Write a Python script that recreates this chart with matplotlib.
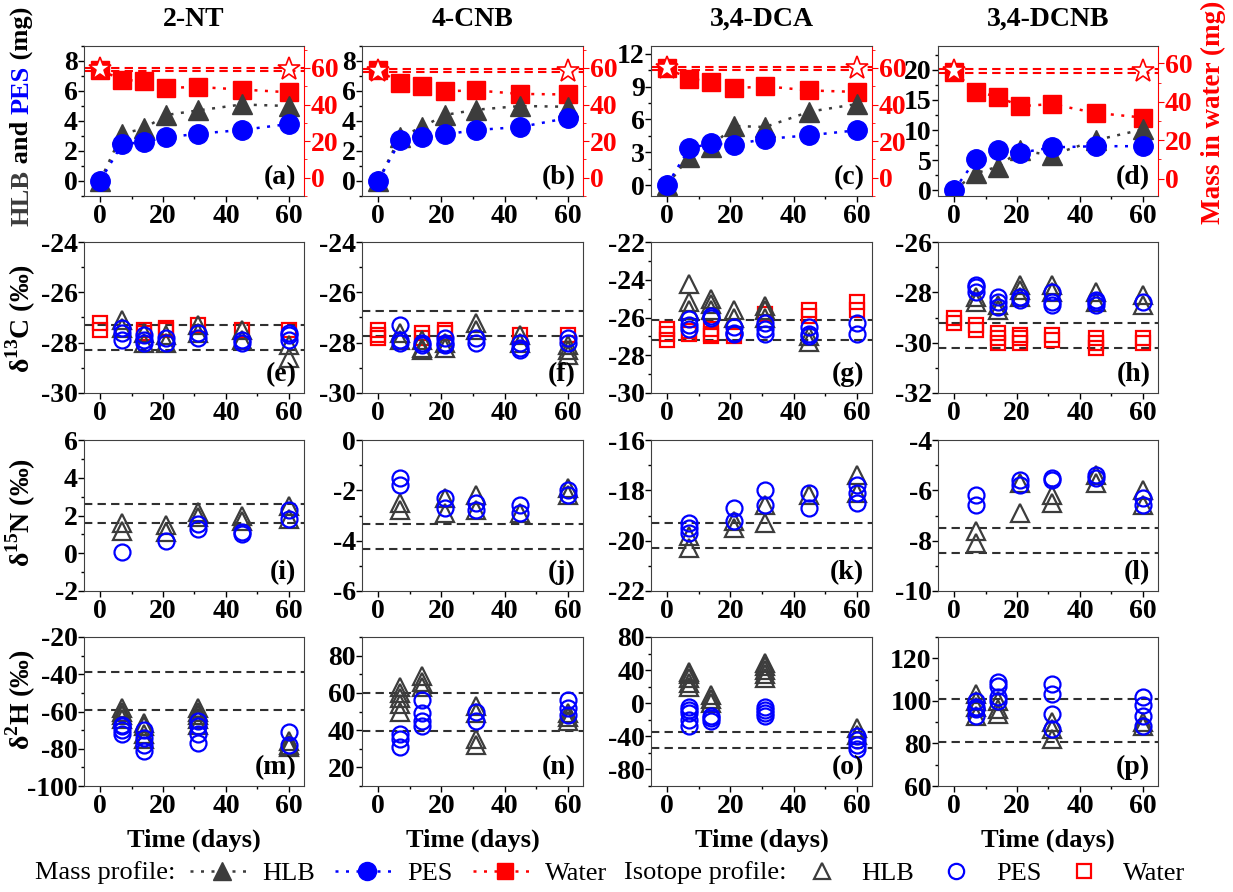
import matplotlib
matplotlib.use('Agg')
import matplotlib.pyplot as plt
from matplotlib.lines import Line2D
from matplotlib.ticker import MultipleLocator

plt.rcParams['font.family'] = ['Liberation Serif', 'DejaVu Serif']
plt.rcParams['font.weight'] = 'bold'
plt.rcParams['mathtext.fontset'] = 'custom'
plt.rcParams['mathtext.rm'] = 'Liberation Serif:bold'
plt.rcParams['mathtext.bf'] = 'Liberation Serif:bold'
plt.rcParams['axes.unicode_minus'] = False

W, H = 1233, 892
GRAY = '#3c3c3c'

compounds = ['2-NT', '4-CNB', '3,4-DCA', '3,4-DCNB']
days = [0, 7, 14, 21, 31, 45, 60]

# ---- mass profiles (mg) ----
hlb_2nt = [0, 3.15, 3.5, 4.4, 4.7, 5.1, 5.0]
pes_2nt = [0, 2.45, 2.6, 2.9, 3.15, 3.4, 3.8]
water_2nt = [58.8, 53.6, 52.7, 49.1, 49.6, 48.2, 46.7]
ctrl_2nt = [58.5, 60.2]

hlb_4cnb = [0, 2.95, 3.6, 4.4, 4.75, 5.0, 4.95]
pes_4cnb = [0, 2.7, 2.95, 3.1, 3.4, 3.6, 4.2]
water_4cnb = [58.8, 51.8, 50.0, 47.3, 47.7, 45.8, 45.5]
ctrl_4cnb = [57.6, 59.5]

hlb_dca = [0, 2.6, 3.5, 5.4, 5.3, 6.7, 7.4]
pes_dca = [0, 3.35, 3.8, 3.7, 4.2, 4.55, 5.0]
water_dca = [59.8, 54.2, 52.4, 48.8, 50.0, 47.7, 46.9]
ctrl_dca = [58.9, 60.7]

hlb_dcnb = [0, 2.8, 3.9, 6.6, 5.8, 8.3, 10.1]
pes_dcnb = [0, 5.1, 6.6, 6.2, 7.1, 7.3, 7.3]
water_dcnb = [55.6, 45.2, 42.6, 37.7, 38.8, 34.2, 31.8]
ctrl_dcnb = [54.8, 56.9]

# ---- delta 13C (permil) ----
c13_2nt_water = {0: [-27.2, -27.5], 14: [-27.5, -27.6], 21: [-27.4, -27.5], 31: [-27.3], 45: [-27.5], 60: [-27.5]}
c13_2nt_hlb = {7: [-27.1, -27.4], 14: [-27.6, -28.0], 21: [-27.7, -28.0], 31: [-27.3, -27.6], 45: [-27.5, -27.9], 60: [-28.1, -28.6]}
c13_2nt_pes = {7: [-27.4, -27.6, -27.9], 14: [-27.7, -27.9, -28.0], 21: [-27.8, -28.0], 31: [-27.6, -27.8], 45: [-27.9, -28.0], 60: [-27.6, -27.7, -27.9]}
c13_2nt_ref = [-27.3, -28.3]

c13_4cnb_water = {0: [-27.5, -27.7, -27.8], 14: [-27.6, -27.8], 21: [-27.5, -27.6], 45: [-27.7], 60: [-27.7]}
c13_4cnb_hlb = {7: [-27.6, -27.9], 14: [-27.9, -28.2, -28.3], 21: [-28.0, -28.2], 31: [-27.2, -27.5], 45: [-27.7, -28.0], 60: [-28.1, -28.3, -28.5]}
c13_4cnb_pes = {7: [-27.3, -27.9, -28.0], 14: [-28.0, -28.1], 21: [-27.8, -28.0, -28.1], 31: [-27.8, -28.0], 45: [-28.0, -28.2, -28.3], 60: [-27.8, -28.0]}
c13_4cnb_ref = [-26.75, -27.75]

c13_dca_water = {0: [-26.6, -26.9, -27.2], 7: [-26.7, -26.9], 14: [-26.6, -26.9, -27.0], 21: [-27.0], 31: [-25.8], 45: [-25.6, -25.9], 60: [-25.2, -25.6]}
c13_dca_hlb = {7: [-24.2, -25.2, -25.6], 14: [-25.0, -25.3, -25.6], 21: [-25.6, -26.0], 31: [-25.4, -25.6, -26.0], 45: [-27.0, -27.3]}
c13_dca_pes = {7: [-26.1, -26.4, -26.6], 14: [-25.9, -26.0], 21: [-26.5, -26.8, -26.9], 31: [-26.3, -26.6, -26.9], 45: [-26.5, -26.9, -27.0], 60: [-26.3, -26.9]}
c13_dca_ref = [-26.15, -27.2]

c13_dcnb_water = {0: [-29.0, -29.2], 7: [-29.3, -29.5], 14: [-29.6, -29.8, -30.0], 21: [-29.7, -29.8, -30.0], 31: [-29.7, -29.9], 45: [-29.8, -30.0, -30.2], 60: [-29.8, -30.0]}
c13_dcnb_hlb = {7: [-28.2, -28.4], 14: [-28.5, -28.7], 21: [-27.7, -27.9, -28.2], 31: [-27.7, -28.0], 45: [-28.0, -28.4], 60: [-28.1, -28.5]}
c13_dcnb_pes = {7: [-27.7, -27.8, -28.0], 14: [-28.2, -28.4, -28.6], 21: [-28.2, -28.3], 31: [-28.0, -28.4, -28.5], 45: [-28.3, -28.4, -28.5], 60: [-28.4]}
c13_dcnb_ref = [-29.2, -30.2]

# ---- delta 15N (permil) ----
n15_2nt_hlb = {7: [1.2, 1.6], 21: [1.1, 1.5], 31: [1.9, 2.2], 45: [1.7, 2.0], 60: [1.8, 2.5]}
n15_2nt_pes = {7: [0.05], 21: [0.65], 31: [1.3, 1.55], 45: [1.0, 1.15], 60: [1.8, 2.3]}
n15_2nt_ref = [2.6, 1.6]

n15_4cnb_hlb = {7: [-2.5, -2.8], 21: [-2.3, -2.9], 31: [-2.2, -2.8], 45: [-2.9], 60: [-1.9, -2.2]}
n15_4cnb_pes = {7: [-1.5, -1.8], 21: [-2.3, -2.7], 31: [-2.5, -2.8], 45: [-2.6, -2.9], 60: [-2.0, -2.2]}
n15_4cnb_ref = [-3.35, -4.35]

n15_dca_hlb = {7: [-19.8, -20.3], 21: [-19.2, -19.5], 31: [-18.6, -19.3], 45: [-18.2], 60: [-17.4, -18.1]}
n15_dca_pes = {7: [-19.3, -19.5, -19.7], 21: [-18.7, -19.2], 31: [-18.0, -18.6], 45: [-18.1, -18.7], 60: [-17.8, -18.1, -18.5]}
n15_dca_ref = [-19.3, -20.3]

n15_dcnb_hlb = {7: [-7.6, -8.1], 21: [-5.7, -6.9], 31: [-6.2, -6.5], 45: [-5.4, -5.7], 60: [-6.0, -6.6]}
n15_dcnb_pes = {7: [-6.2, -6.6], 21: [-5.6, -5.8], 31: [-5.5, -5.6], 45: [-5.4, -5.5], 60: [-6.3, -6.6]}
n15_dcnb_ref = [-7.5, -8.5]

# ---- delta 2H (permil) ----
h2_2nt_hlb = {7: [-58, -60, -62, -64], 14: [-66, -68, -72, -75], 31: [-58, -60, -62, -64, -67], 60: [-76, -78, -79]}
h2_2nt_pes = {7: [-67, -68, -70, -72], 14: [-70, -74, -78, -81], 31: [-65, -68, -72, -77], 60: [-71, -78]}
h2_2nt_ref = [-39, -59]

h2_4cnb_hlb = {7: [50, 54, 57, 60, 63], 14: [63, 66, 69], 31: [32, 35, 49, 53], 60: [45, 47, 49]}
h2_4cnb_pes = {7: [31, 35, 38], 14: [42, 45, 49, 56], 31: [45, 50], 60: [48, 52, 56]}
h2_4cnb_ref = [59.7, 39.7]

h2_dca_hlb = {7: [20, 25, 30, 35, 38], 14: [0, 5, 10], 31: [30, 35, 40, 45, 48], 60: [-30, -38]}
h2_dca_pes = {7: [-5, -8, -12, -20, -27], 14: [-15, -18, -22], 31: [-5, -8, -12, -15], 60: [-40, -45, -50, -55]}
h2_dca_ref = [-35, -54]

h2_dcnb_hlb = {7: [93, 97, 100, 103], 14: [94, 96, 100], 31: [82, 87, 90], 60: [88, 90]}
h2_dcnb_pes = {7: [93, 96, 97, 100], 14: [100, 102, 107, 109], 31: [87, 94, 103, 108], 60: [88, 93, 98, 102]}
h2_dcnb_ref = [101, 80.8]

# ---- layout (pixels) ----
col_l = [84, 362, 651, 938]
col_r = [304, 583, 872, 1158]
rows = [(46, 196), (242, 393), (440, 591), (637, 786)]
XLIM = (-5.1, 64.8)
TICK_FS = 20

fig = plt.figure(figsize=(W / 100, H / 100), dpi=100)


def make_ax(r, c):
    top, bot = rows[r]
    ax = fig.add_axes([col_l[c] / W, 1 - bot / H, (col_r[c] - col_l[c]) / W, (bot - top) / H])
    ax.set_xlim(*XLIM)
    ax.xaxis.set_major_locator(MultipleLocator(20))
    ax.xaxis.set_minor_locator(MultipleLocator(10))
    ax.tick_params(which='both', direction='out', labelsize=TICK_FS)
    ax.tick_params(axis='x', pad=2)
    ax.tick_params(axis='y', pad=0.5)
    ax.tick_params(which='major', length=4, width=1)
    ax.tick_params(which='minor', length=2.5, width=1)
    for s in ax.spines.values():
        s.set_color('#404040')
    return ax


def panel_label(ax, s):
    ax.text(0.965, 0.04, s, transform=ax.transAxes, ha='right', va='bottom', fontsize=20, fontweight='bold')


def scatter_dict(ax, d, color, marker, ms):
    xs = [k for k, v in d.items() for _ in v]
    ys = [y for v in d.values() for y in v]
    ax.plot(xs, ys, ls='none', marker=marker, mfc='none', mec=color, ms=ms, mew=1.6)


def iso_panel(r, c, water, hlb, pes, ref, ylim, major, minor, letter):
    ax = make_ax(r, c)
    for v in ref:
        ax.axhline(v, color='#303030', ls='--', lw=1.5, dashes=(4, 2.5), zorder=1)
    if water is not None:
        scatter_dict(ax, water, 'red', 's', 10)
    scatter_dict(ax, hlb, GRAY, '^', 12.5)
    scatter_dict(ax, pes, 'blue', 'o', 11.5)
    ax.set_ylim(*ylim)
    ax.yaxis.set_major_locator(MultipleLocator(major))
    ax.yaxis.set_minor_locator(MultipleLocator(minor))
    panel_label(ax, letter)
    return ax


# ---- row 1: mass ----
mass_sets = [
    (hlb_2nt, pes_2nt, water_2nt, ctrl_2nt, (-1, 9), 2, (-10, 72)),
    (hlb_4cnb, pes_4cnb, water_4cnb, ctrl_4cnb, (-1, 9), 2, (-10, 72)),
    (hlb_dca, pes_dca, water_dca, ctrl_dca, (-1, 12.7), 3, (-10, 72)),
    (hlb_dcnb, pes_dcnb, water_dcnb, ctrl_dcnb, (-1, 24), 5, (-9, 69)),
]
dot = (0, (1.2, 3))
for c, (hlb, pes, water, ctrl, yl, step, yr) in enumerate(mass_sets):
    ax = make_ax(0, c)
    ax.spines['right'].set_visible(False)
    ax2 = ax.twinx()
    ax2.set_xlim(*XLIM)
    for v in ctrl:
        ax2.axhline(v, color='red', ls='--', lw=1.5, dashes=(4, 2.5), zorder=1)
    ax2.plot(days, water, color='red', ls=dot, lw=1.8, marker='s', ms=13, mfc='red', mec='red')
    ax2.plot([days[0], days[-1]], [sum(ctrl) / 2] * 2, ls='none', marker='*', ms=17, mfc='white', mec='red', mew=1.2)
    ax2.set_ylim(*yr)
    ax2.yaxis.set_major_locator(MultipleLocator(20))
    ax2.yaxis.set_minor_locator(MultipleLocator(10))
    ax2.tick_params(which='both', direction='out', labelsize=TICK_FS, colors='red', pad=1)
    ax2.tick_params(which='major', length=4)
    ax2.tick_params(which='minor', length=2.5)
    ax2.spines['right'].set_color('red')
    for s in ['top', 'left', 'bottom']:
        ax2.spines[s].set_visible(False)
    ax2.set_zorder(1)
    ax.set_zorder(2)
    ax.patch.set_visible(False)
    ax.plot(days, hlb, color=GRAY, ls=dot, lw=1.8, marker='^', ms=15)
    ax.plot(days, pes, color='blue', ls=dot, lw=1.8, marker='o', ms=14)
    ax.set_ylim(*yl)
    ax.yaxis.set_major_locator(MultipleLocator(step))
    ax.yaxis.set_minor_locator(MultipleLocator(step / 2))
    panel_label(ax, '(' + 'abcd'[c] + ')')

# ---- row 2: 13C ----
iso_panel(1, 0, c13_2nt_water, c13_2nt_hlb, c13_2nt_pes, c13_2nt_ref, (-30, -24), 2, 1, '(e)')
iso_panel(1, 1, c13_4cnb_water, c13_4cnb_hlb, c13_4cnb_pes, c13_4cnb_ref, (-30, -24), 2, 1, '(f)')
iso_panel(1, 2, c13_dca_water, c13_dca_hlb, c13_dca_pes, c13_dca_ref, (-30, -22), 2, 1, '(g)')
iso_panel(1, 3, c13_dcnb_water, c13_dcnb_hlb, c13_dcnb_pes, c13_dcnb_ref, (-32, -26), 2, 1, '(h)')

# ---- row 3: 15N ----
iso_panel(2, 0, None, n15_2nt_hlb, n15_2nt_pes, n15_2nt_ref, (-2, 6), 2, 1, '(i)')
iso_panel(2, 1, None, n15_4cnb_hlb, n15_4cnb_pes, n15_4cnb_ref, (-6, 0), 2, 1, '(j)')
iso_panel(2, 2, None, n15_dca_hlb, n15_dca_pes, n15_dca_ref, (-22, -16), 2, 1, '(k)')
iso_panel(2, 3, None, n15_dcnb_hlb, n15_dcnb_pes, n15_dcnb_ref, (-10, -4), 2, 1, '(l)')

# ---- row 4: 2H ----
iso_panel(3, 0, None, h2_2nt_hlb, h2_2nt_pes, h2_2nt_ref, (-100, -20), 20, 10, '(m)')
iso_panel(3, 1, None, h2_4cnb_hlb, h2_4cnb_pes, h2_4cnb_ref, (10, 90), 20, 10, '(n)')
iso_panel(3, 2, None, h2_dca_hlb, h2_dca_pes, h2_dca_ref, (-100, 80), 40, 20, '(o)')
iso_panel(3, 3, None, h2_dcnb_hlb, h2_dcnb_pes, h2_dcnb_ref, (60, 130), 20, 10, '(p)')

# ---- titles and labels ----
for c, name in enumerate(compounds):
    xc = (col_l[c] + col_r[c]) / 2 / W
    fig.text(xc, 1 - 19 / H, name, ha='center', va='center', fontsize=20, fontweight='bold')
    fig.text(xc, 1 - 840 / H, 'Time (days)', ha='center', va='center', fontsize=19, fontweight='bold')

# multi-coloured left label of row 1
renderer = fig.canvas.get_renderer()
ypos = 226
for s, col in [('HLB', GRAY), (' and ', 'black'), ('PES', 'blue'), (' (mg)', 'black')]:
    t = fig.text(22 / W, 1 - ypos / H, s, color=col, rotation=90, ha='center', va='bottom',
                 fontsize=19, fontweight='bold')
    ypos -= t.get_window_extent(renderer).height
fig.text(1213 / W, 1 - 112 / H, 'Mass in water (mg)', color='red', rotation=90, ha='center', va='center',
         fontsize=19.5, fontweight='bold')

row_labels = [r'δ$^{\mathbf{13}}$C (‰)', r'δ$^{\mathbf{15}}$N (‰)', r'δ$^{\mathbf{2}}$H (‰)']
for yc, lab in zip([318, 512, 700], row_labels):
    fig.text(21 / W, 1 - yc / H, lab, rotation=90, ha='center', va='center', fontsize=20, fontweight='bold')

# ---- legend ----
ly = 1 - 873 / H
LEG_FS = 19
fig.text(35 / W, ly, 'Mass profile:', ha='left', va='center', fontsize=LEG_FS, fontweight='normal')
fig.text(624 / W, ly, 'Isotope profile:', ha='left', va='center', fontsize=LEG_FS, fontweight='normal')
h1 = [Line2D([], [], color=GRAY, ls=dot, lw=1.8, marker='^', ms=13),
      Line2D([], [], color='blue', ls=dot, lw=1.8, marker='o', ms=13),
      Line2D([], [], color='red', ls=dot, lw=1.8, marker='s', ms=11)]
fig.legend(h1, ['HLB', 'PES', 'Water'], loc='center left', bbox_to_anchor=(190 / W, ly), ncol=3,
           frameon=False, prop={'size': LEG_FS, 'weight': 'normal'}, handlelength=2.4,
           columnspacing=0.75, handletextpad=0.35, borderaxespad=0, borderpad=0)
h2 = [Line2D([], [], ls='none', marker='^', mfc='none', mec=GRAY, ms=12, mew=1.6),
      Line2D([], [], ls='none', marker='o', mfc='none', mec='blue', ms=11, mew=1.6),
      Line2D([], [], ls='none', marker='s', mfc='none', mec='red', ms=10, mew=1.6)]
fig.legend(h2, ['HLB', 'PES', 'Water'], loc='center left', bbox_to_anchor=(802 / W, ly), ncol=3,
           frameon=False, prop={'size': LEG_FS, 'weight': 'normal'}, handlelength=1.5,
           columnspacing=0.85, handletextpad=0.75, borderaxespad=0, borderpad=0)

plt.savefig('out.png', dpi=100)
